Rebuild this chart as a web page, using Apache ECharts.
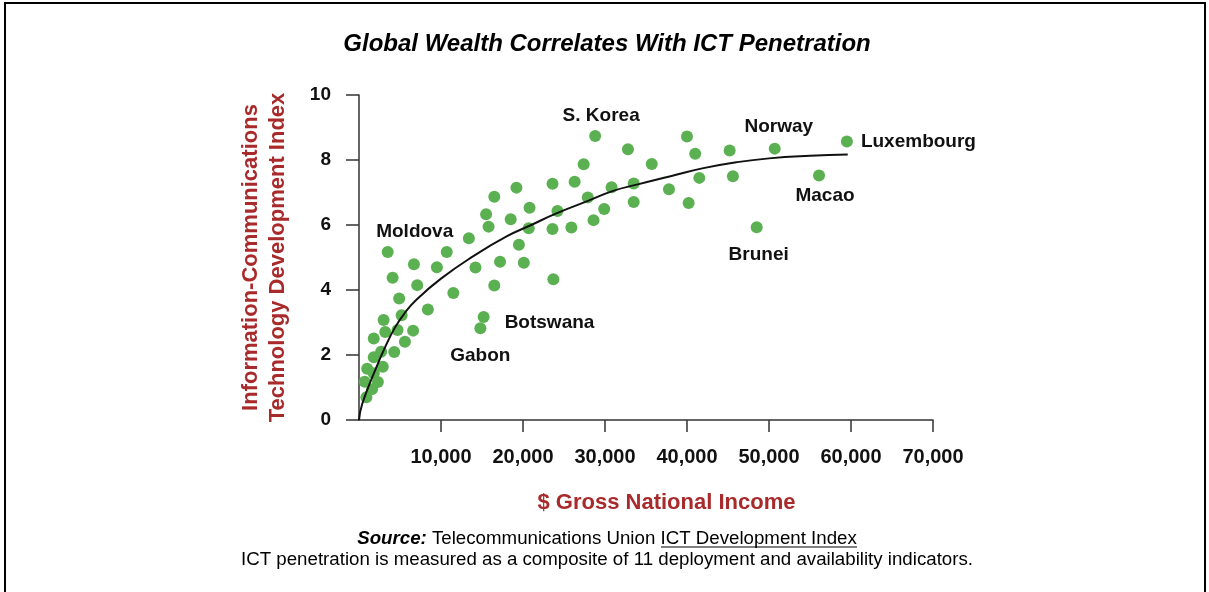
<!DOCTYPE html>
<html>
<head>
<meta charset="utf-8">
<script src="https://cdn.jsdelivr.net/npm/echarts@6/dist/echarts.min.js"></script>
<style>
html, body { margin: 0; padding: 0; background: #fff; }
#main { width: 1209px; height: 592px; }
</style>
</head>
<body>
<div id="main"></div>
<script>
// countries without a label: GNI ($) and ICT index
const gniValues = [
    32800, 35700, 27400, 23600, 26300, 33500, 30800, 19200, 16500, 27900,
    20800, 24200, 29900, 33500, 15500, 18500, 28600, 15800, 20700, 23600,
    25900, 13400, 19500, 10700, 6700, 9500, 14200, 17200, 20100, 4100,
    7100, 16500, 23700, 11500, 4900, 8400, 5200, 3000, 3200, 6600,
    4700, 5600, 1800, 4300, 2700, 1800, 2900, 1000, 1800, 700,
    2300, 1600, 900, 40000, 41000, 45200, 41500, 45600, 37800, 40200
];
const ictValues = [
    8.33, 7.88, 7.87, 7.27, 7.33, 7.28, 7.16, 7.15, 6.87, 6.85,
    6.53, 6.43, 6.49, 6.71, 6.33, 6.18, 6.15, 5.95, 5.90, 5.88,
    5.92, 5.59, 5.39, 5.17, 4.79, 4.70, 4.69, 4.87, 4.84, 4.38,
    4.15, 4.14, 4.33, 3.91, 3.74, 3.40, 3.22, 3.08, 2.71, 2.75,
    2.77, 2.41, 2.51, 2.09, 2.10, 1.93, 1.64, 1.58, 1.44, 1.18,
    1.17, 0.95, 0.70, 8.72, 8.19, 8.29, 7.45, 7.50, 7.10, 6.68
];

// labelled countries
const countryNames = ['S. Korea', 'Norway', 'Luxembourg', 'Macao', 'Brunei', 'Moldova', 'Botswana', 'Gabon'];
const countryGni = [28800, 50700, 59500, 56100, 48500, 3500, 15200, 14800];
const countryIct = [8.74, 8.35, 8.57, 7.52, 5.93, 5.17, 3.17, 2.82];

// trend line
const trendGni = [0, 400, 2000, 3200, 4400, 5600, 7000, 10000, 14000, 18000, 21000, 24000, 28000, 31000, 34000, 38000, 42000, 46000, 50000, 55000, 59600];
const trendIct = [0, 0.5, 1.55, 2.25, 2.85, 3.3, 3.7, 4.35, 5.05, 5.65, 6.0, 6.35, 6.75, 7.05, 7.25, 7.5, 7.75, 7.93, 8.05, 8.13, 8.17];

const xTicks = [10000, 20000, 30000, 40000, 50000, 60000, 70000];

const FONT = '"Liberation Sans", Arial, sans-serif';
const RED = '#a92a2a';
const GREEN = '#5bb152';

// where each country label goes
const labelPlace = {
    'S. Korea': { position: 'top', offset: [6, 0] },
    'Norway': { position: 'top', offset: [4, -1] },
    'Luxembourg': { position: 'right', distance: 8 },
    'Macao': { position: 'bottom', offset: [6, 0] },
    'Brunei': { position: 'bottom', offset: [2, 7] },
    'Moldova': { position: 'top', offset: [27, 0] },
    'Botswana': { position: 'right', offset: [10, 6] },
    'Gabon': { position: 'bottom', offset: [0, 7] }
};

let plain = gniValues.map(function(g, i) {
    return [g, ictValues[i]];
});
let named = countryNames.map(function(name, i) {
    return {
        name: name,
        value: [countryGni[i], countryIct[i]],
        label: Object.assign({ show: true, formatter: '{b}' }, labelPlace[name])
    };
});
let trend = trendGni.map(function(g, i) {
    return [g, trendIct[i]];
});

let chart = echarts.init(document.getElementById('main'));
let options = {
    animation: false,
    textStyle: { fontFamily: FONT },
    title: [
        {
            text: 'Global Wealth Correlates With ICT Penetration',
            left: 602,
            top: 27,
            textAlign: 'center',
            textStyle: { fontFamily: FONT, fontSize: 24, fontWeight: 'bold', fontStyle: 'italic', color: '#000' }
        },
        {
            text: '{b|Source:} Telecommunications Union ICT Development Index\nICT penetration is measured as a composite of 11 deployment and availability indicators.',
            left: 602,
            top: 523,
            textAlign: 'center',
            textStyle: {
                fontFamily: FONT, fontSize: 18.7, fontWeight: 'normal', color: '#000', lineHeight: 21,
                rich: {
                    b: { fontFamily: FONT, fontSize: 18.7, fontWeight: 'bold', fontStyle: 'italic', color: '#000', lineHeight: 21 }
                }
            }
        }
    ],
    graphic: [
        // frame round the picture
        { type: 'polyline', shape: { points: [[5, 592], [5, 3], [1205, 3], [1205, 592]] }, style: { stroke: '#000', lineWidth: 2, fill: null } },
        // underline of the link text
        { type: 'line', shape: { x1: 661, y1: 547, x2: 857, y2: 547 }, style: { stroke: '#000', lineWidth: 1 } }
    ],
    grid: { left: 359, right: 276, top: 95, bottom: 172 },
    xAxis: {
        type: 'value',
        min: 0,
        max: 70000,
        interval: 10000,
        name: '$ Gross National Income',
        nameLocation: 'middle',
        nameGap: 72,
        nameTextStyle: { fontFamily: FONT, fontSize: 22, fontWeight: 'bold', color: RED, padding: [0, 0, 0, 41] },
        axisLine: { show: true, lineStyle: { color: '#333', width: 1.5 } },
        axisTick: { show: true, length: 12, customValues: xTicks, lineStyle: { color: '#333', width: 1.5 } },
        axisLabel: {
            customValues: xTicks,
            margin: 27,
            fontFamily: FONT, fontSize: 20, fontWeight: 'bold', color: '#111',
            formatter: function(v) { return v === 0 ? '' : v.toLocaleString('en-US'); }
        },
        splitLine: { show: false }
    },
    yAxis: {
        type: 'value',
        min: 0,
        max: 10,
        interval: 2,
        name: 'Information-Communications\nTechnology Development Index',
        nameLocation: 'middle',
        nameGap: 68,
        nameTextStyle: { fontFamily: FONT, fontSize: 22, fontWeight: 'bold', color: RED, lineHeight: 27 },
        axisLine: { show: true, lineStyle: { color: '#333', width: 1.5 } },
        axisTick: { show: true, length: 13, lineStyle: { color: '#333', width: 1.5 } },
        axisLabel: { margin: 28, fontFamily: FONT, fontSize: 19, fontWeight: 'bold', color: '#111' },
        splitLine: { show: false }
    },
    series: [
        {
            name: 'trend',
            type: 'line',
            data: trend,
            smooth: true,
            showSymbol: false,
            lineStyle: { color: '#111', width: 2 },
            z: 3
        },
        {
            name: 'countries',
            type: 'scatter',
            data: plain.concat(named),
            symbolSize: 12,
            itemStyle: { color: GREEN, opacity: 1 },
            label: { fontFamily: FONT, fontSize: 19, fontWeight: 'bold', color: '#111' },
            z: 2
        }
    ]
};
chart.setOption(options);
</script>
</body>
</html>
